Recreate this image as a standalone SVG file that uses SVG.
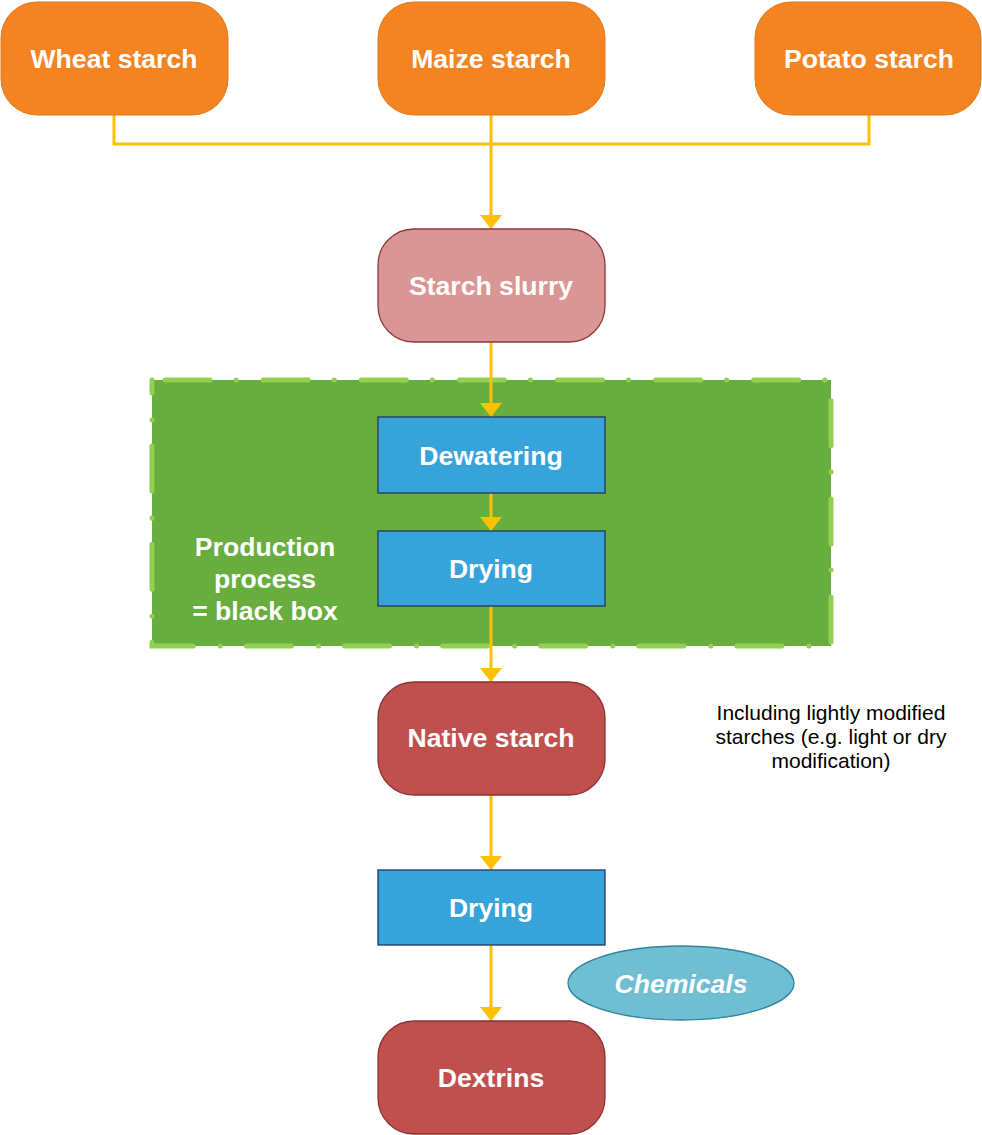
<svg xmlns="http://www.w3.org/2000/svg" width="982" height="1135" viewBox="0 0 982 1135">
<defs>
<style>
.lbl{font-family:"Liberation Sans",Arial,sans-serif;font-weight:bold;font-size:26.6px;fill:#fff;text-anchor:middle}
.note{font-family:"Liberation Sans",Arial,sans-serif;font-size:21px;fill:#000;text-anchor:middle}
.src{fill:#F48322;stroke:#E07A20;stroke-width:1}
.proc{fill:#36A3DB;stroke:#1F3864;stroke-width:1.3}
.prod{fill:#C0504D;stroke:#8C3230;stroke-width:1.3}
.conn{fill:none;stroke:#FFC000;stroke-width:3}
</style>
<marker id="ah" viewBox="0 0 14 22" refX="14" refY="11" markerWidth="14" markerHeight="22" markerUnits="userSpaceOnUse" orient="auto">
<path d="M0,0 L14,11 L0,22 z" fill="#FFC000"/>
</marker>
</defs>
<rect width="982" height="1135" fill="#fff"/>
<g id="blackbox">
<rect x="152" y="380" width="679" height="266" fill="#67AE3E"/>
<rect x="152" y="380" width="679" height="266" fill="none" stroke="#92D050" stroke-width="5" stroke-linecap="round" stroke-dasharray="45 26 0.1 27" stroke-dashoffset="85"/>
<text class="lbl" x="265" y="556">Production</text>
<text class="lbl" x="265" y="588">process</text>
<text class="lbl" x="265" y="620">= black box</text>
</g>
<g id="connectors">
<path class="conn" d="M114,115 V144 H869 V115"/>
<path class="conn" d="M491,115 V229" marker-end="url(#ah)"/>
<path class="conn" d="M491,342 V417" marker-end="url(#ah)"/>
<path class="conn" d="M491,493 V531" marker-end="url(#ah)"/>
<path class="conn" d="M491,606 V682" marker-end="url(#ah)"/>
<path class="conn" d="M491,795 V870" marker-end="url(#ah)"/>
<path class="conn" d="M491,945 V1021" marker-end="url(#ah)"/>
</g>
<g id="wheat">
<rect class="src" x="1" y="2" width="227" height="113" rx="36"/>
<text class="lbl" x="114" y="68">Wheat starch</text>
</g>
<g id="maize">
<rect class="src" x="378" y="2" width="227" height="113" rx="36"/>
<text class="lbl" x="491" y="68">Maize starch</text>
</g>
<g id="potato">
<rect class="src" x="755" y="2" width="226" height="113" rx="36"/>
<text class="lbl" x="869" y="68">Potato starch</text>
</g>
<g id="slurry">
<rect x="378" y="229" width="227" height="113" rx="36" fill="#D99694" stroke="#8C3A36" stroke-width="1.3"/>
<text class="lbl" x="491" y="295">Starch slurry</text>
</g>
<g id="dewatering">
<rect class="proc" x="378" y="417" width="227" height="76"/>
<text class="lbl" x="491" y="465">Dewatering</text>
</g>
<g id="drying1">
<rect class="proc" x="378" y="531" width="227" height="75"/>
<text class="lbl" x="491" y="578">Drying</text>
</g>
<g id="native">
<rect class="prod" x="378" y="682" width="227" height="113" rx="36"/>
<text class="lbl" x="491" y="747">Native starch</text>
</g>
<g id="note">
<text class="note" x="831" y="720">Including lightly modified</text>
<text class="note" x="831" y="744">starches (e.g. light or dry</text>
<text class="note" x="831" y="768">modification)</text>
</g>
<g id="drying2">
<rect class="proc" x="378" y="870" width="227" height="75"/>
<text class="lbl" x="491" y="917">Drying</text>
</g>
<g id="chemicals">
<ellipse cx="681" cy="983" rx="113" ry="37" fill="#6FBED2" stroke="#31859C" stroke-width="1.3"/>
<text class="lbl" x="681" y="993" font-style="italic">Chemicals</text>
</g>
<g id="dextrins">
<rect class="prod" x="378" y="1021" width="227" height="113" rx="36"/>
<text class="lbl" x="491" y="1087">Dextrins</text>
</g>
</svg>
